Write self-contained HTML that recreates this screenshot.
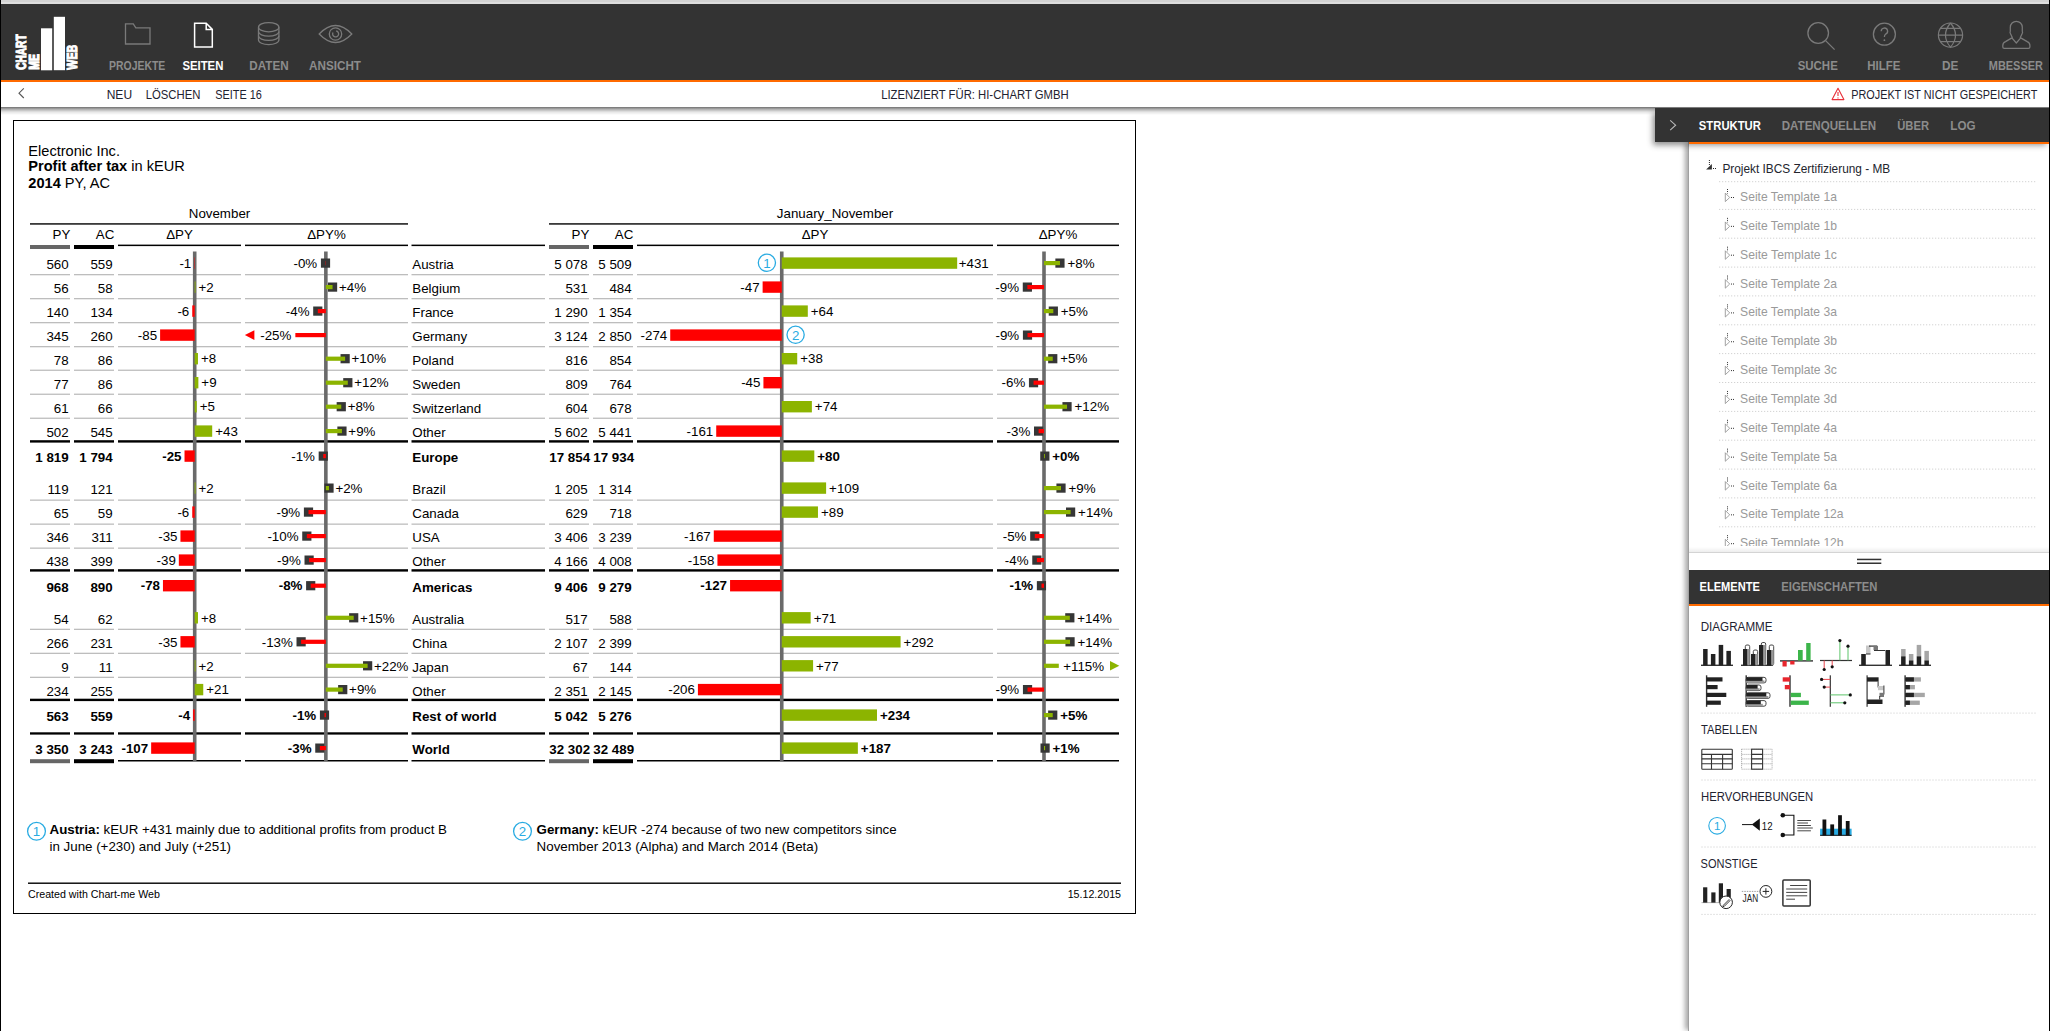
<!DOCTYPE html>
<html><head><meta charset="utf-8"><title>Chart-me Web</title>
<style>
html,body{margin:0;padding:0}
body{width:2050px;height:1031px;overflow:hidden;background:#fff;position:relative;font-family:"Liberation Sans",sans-serif}
.a{position:absolute}
svg text{font-family:"Liberation Sans",sans-serif}
</style></head><body>
<div class="a" style="left:0;top:0;width:2050px;height:2px;background:#d3d3d3"></div><div class="a" style="left:0;top:2px;width:2050px;height:2px;background:#dedede"></div><div class="a" style="left:0;top:4px;width:2050px;height:76px;background:#333333"></div><div class="a" style="left:0;top:80px;width:2050px;height:2px;background:#ff6a00"></div><div class="a" style="left:0;top:82px;width:2050px;height:25px;background:#fff"></div><div class="a" style="left:0;top:107px;width:2050px;height:8px;background:linear-gradient(rgba(0,0,0,0.56),rgba(0,0,0,0.3) 30%,rgba(0,0,0,0.1) 62%,rgba(0,0,0,0))"></div><div class="a" style="left:13px;top:120px;width:1121px;height:792px;border:1px solid #000;background:#fff"></div><div class="a" style="left:1688px;top:142px;width:361px;height:889px;background:#fff;box-shadow:-4px 0 5px -1px rgba(0,0,0,0.35);border-left:1px solid #a0a0a0"></div><div class="a" style="left:1655px;top:108px;width:395px;height:34px;background:#333;box-shadow:-3px 4px 6px -1px rgba(0,0,0,0.45)"></div><div class="a" style="left:1689px;top:142px;width:361px;height:2px;background:#ff6a00"></div><div class="a" style="left:1689px;top:547px;width:361px;height:5px;background:linear-gradient(rgba(0,0,0,0),rgba(0,0,0,0.07))"></div><div class="a" style="left:1689px;top:552px;width:361px;height:1px;background:#d4d4d4"></div><div class="a" style="left:1689px;top:570px;width:361px;height:34px;background:#333"></div><div class="a" style="left:1689px;top:604px;width:361px;height:2px;background:#ff6a00"></div><div class="a" style="left:0;top:0;width:1px;height:1031px;background:#000;z-index:5"></div><div class="a" style="left:2049px;top:0;width:1px;height:1031px;background:#000;z-index:5"></div>
<svg class="a" style="left:0;top:0;z-index:3" width="2050" height="1031" viewBox="0 0 2050 1031">
<g fill="#fff">
<rect x="41" y="28.3" width="11.2" height="42" />
<rect x="53.8" y="16.8" width="11.2" height="53.4" />
</g>
<text transform="translate(26.05,69.85) rotate(-90)" x="0" y="0" font-size="14.53" font-weight="bold" fill="#fff" stroke="#fff" stroke-width="1.1" stroke-linejoin="miter" textLength="35.50" lengthAdjust="spacingAndGlyphs">CHART</text>
<text transform="translate(38.65,69.65) rotate(-90)" x="0" y="0" font-size="14.11" font-weight="bold" fill="#fff" stroke="#fff" stroke-width="1.1" stroke-linejoin="miter" textLength="15.70" lengthAdjust="spacingAndGlyphs">ME</text>
<text transform="translate(77.35,69.65) rotate(-90)" x="0" y="0" font-size="15.08" font-weight="bold" fill="#fff" stroke="#fff" stroke-width="1.1" stroke-linejoin="miter" textLength="24.80" lengthAdjust="spacingAndGlyphs">WEB</text>
<text x="109.00" y="70.2" font-size="12.6" font-weight="bold" fill="#8c8c8c" textLength="56.30" lengthAdjust="spacingAndGlyphs">PROJEKTE</text>
<text x="182.40" y="70.2" font-size="12.6" font-weight="bold" fill="#ffffff" textLength="41.00" lengthAdjust="spacingAndGlyphs">SEITEN</text>
<text x="249.30" y="70.2" font-size="12.6" font-weight="bold" fill="#8c8c8c" textLength="39.30" lengthAdjust="spacingAndGlyphs">DATEN</text>
<text x="309.10" y="70.2" font-size="12.6" font-weight="bold" fill="#8c8c8c" textLength="51.90" lengthAdjust="spacingAndGlyphs">ANSICHT</text>
<text x="1797.70" y="70.2" font-size="12.6" font-weight="bold" fill="#8c8c8c" textLength="40.10" lengthAdjust="spacingAndGlyphs">SUCHE</text>
<text x="1867.30" y="70.2" font-size="12.6" font-weight="bold" fill="#8c8c8c" textLength="33.10" lengthAdjust="spacingAndGlyphs">HILFE</text>
<text x="1941.90" y="70.2" font-size="12.6" font-weight="bold" fill="#8c8c8c" textLength="16.40" lengthAdjust="spacingAndGlyphs">DE</text>
<text x="1988.80" y="70.2" font-size="12.6" font-weight="bold" fill="#8c8c8c" textLength="54.10" lengthAdjust="spacingAndGlyphs">MBESSER</text>
<path d="M125.5 44 V23.9 H133.3 L135.8 27.8 H150 V44 Z" fill="none" stroke="#7a7a7a" stroke-width="1.3" stroke-linejoin="miter"/>
<path d="M194.6 47 V23.3 H206.2 L212.3 29.4 V47 Z M206.2 23.3 V29.4 H212.3" fill="none" stroke="#fff" stroke-width="1.5"/>
<g fill="none" stroke="#7a7a7a" stroke-width="1.3"><ellipse cx="268.7" cy="27.2" rx="10.2" ry="4.6"/><path d="M258.5 27.2 V40 A10.2 4.6 0 0 0 278.9 40 V27.2"/><path d="M258.5 31.6 A10.2 4.6 0 0 0 278.9 31.6"/><path d="M258.5 35.8 A10.2 4.6 0 0 0 278.9 35.8"/></g>
<g fill="none" stroke="#7a7a7a" stroke-width="1.3"><path d="M319.2 34 Q335.5 17 351.8 34 Q335.5 51 319.2 34 Z"/><circle cx="335.5" cy="34" r="6.2"/><path d="M333 32.5 A3 3 0 1 0 336.2 31"/></g>
<g fill="none" stroke="#7a7a7a" stroke-width="1.3"><circle cx="1818.2" cy="33" r="10.3"/><path d="M1825.6 40.6 L1834.6 49.6"/></g>
<g fill="none" stroke="#7a7a7a" stroke-width="1.3"><circle cx="1884.4" cy="34.2" r="11"/><path d="M1881.2 31.3 A3.2 3.2 0 1 1 1885.6 34.2 Q1884.4 35 1884.4 37"/></g><circle cx="1884.4" cy="40.2" r="0.9" fill="#7a7a7a"/>
<g fill="none" stroke="#7a7a7a" stroke-width="1.2"><circle cx="1950.5" cy="35.1" r="12.1"/><path d="M1950.5 23 Q1940.4 35.1 1950.5 47.2 Q1960.6 35.1 1950.5 23 M1938.4 35.1 H1962.6 M1940.3 28.3 H1960.7 M1940.3 41.7 H1960.7"/></g>
<path d="M2012.3 37.6 L2010.4 33.5 Q2009.7 32.3 2010.3 31.2 V27.3 A6 6 0 0 1 2022.3 27.3 V31.2 Q2022.9 32.3 2022.2 33.5 L2020.3 37.6 L2027.2 41.6 Q2029.9 42.8 2029.9 45.5 V47 Q2029.9 48.4 2028.5 48.4 H2004.2 Q2002.8 48.4 2002.8 47 V45.5 Q2002.8 42.8 2005.5 41.6 Z M2012.3 38.4 L2016.3 43 L2020.3 38.4" fill="none" stroke="#7a7a7a" stroke-width="1.25" stroke-linejoin="round"/>
<path d="M23.8 88.3 L19 93.2 L23.8 98" fill="none" stroke="#555" stroke-width="1.1"/>
<text x="106.70" y="99" font-size="11.9" fill="#1e2230" textLength="25.40" lengthAdjust="spacingAndGlyphs">NEU</text>
<text x="145.70" y="99" font-size="11.9" fill="#1e2230" textLength="54.70" lengthAdjust="spacingAndGlyphs">LÖSCHEN</text>
<text x="215.30" y="99" font-size="11.9" fill="#1e2230" textLength="46.60" lengthAdjust="spacingAndGlyphs">SEITE 16</text>
<text x="881.20" y="99" font-size="11.9" fill="#1e2230" textLength="187.50" lengthAdjust="spacingAndGlyphs">LIZENZIERT FÜR: HI-CHART GMBH</text>
<text x="1851.20" y="99" font-size="11.9" fill="#1e2230" textLength="186.20" lengthAdjust="spacingAndGlyphs">PROJEKT IST NICHT GESPEICHERT</text>
<path d="M1838 88.2 L1843.9 99.6 H1832.1 Z" fill="none" stroke="#e8303a" stroke-width="1.1" stroke-linejoin="round"/>
<path d="M1838 92 V96" stroke="#e8303a" stroke-width="1.1"/><circle cx="1838" cy="97.9" r="0.6" fill="#e8303a"/>
<text x="28.3" y="155.9" font-size="14.6" fill="#000">Electronic Inc.</text>
<text x="28.3" y="171.4" font-size="14.6"><tspan font-weight="bold">Profit after tax</tspan> in kEUR</text>
<text x="28.3" y="187.7" font-size="14.6"><tspan font-weight="bold">2014</tspan> PY, AC</text>
<text x="219.5" y="218" font-size="13.33" fill="#000" text-anchor="middle">November</text>
<text x="835" y="218.3" font-size="13.33" fill="#000" text-anchor="middle">January_November</text>
<rect x="30.00" y="223.00" width="378.00" height="1.80" fill="#3a3a3a"/>
<rect x="549.00" y="223.00" width="570.00" height="1.80" fill="#3a3a3a"/>
<text x="70.3" y="239" font-size="13.33" fill="#000" text-anchor="end">PY</text>
<text x="589.3" y="239" font-size="13.33" fill="#000" text-anchor="end">PY</text>
<text x="114.3" y="239" font-size="13.33" fill="#000" text-anchor="end">AC</text>
<text x="633.3" y="239" font-size="13.33" fill="#000" text-anchor="end">AC</text>
<text x="179.5" y="239" font-size="13.33" fill="#000" text-anchor="middle">ΔPY</text>
<text x="815.0" y="239" font-size="13.33" fill="#000" text-anchor="middle">ΔPY</text>
<text x="326.5" y="239" font-size="13.33" fill="#000" text-anchor="middle">ΔPY%</text>
<text x="1058.0" y="239" font-size="13.33" fill="#000" text-anchor="middle">ΔPY%</text>
<rect x="30.00" y="245.00" width="40.00" height="4.00" fill="#666666"/>
<rect x="549.00" y="245.00" width="40.00" height="4.00" fill="#666666"/>
<rect x="74.00" y="245.00" width="40.00" height="4.00" fill="#000000"/>
<rect x="593.00" y="245.00" width="40.00" height="4.00" fill="#000000"/>
<rect x="118.00" y="244.60" width="123.00" height="1.50" fill="#000"/>
<rect x="245.00" y="244.60" width="163.00" height="1.50" fill="#000"/>
<rect x="411.50" y="244.60" width="133.50" height="1.50" fill="#000"/>
<rect x="637.00" y="244.60" width="356.00" height="1.50" fill="#000"/>
<rect x="997.00" y="244.60" width="122.00" height="1.50" fill="#000"/>
<rect x="30.00" y="274.00" width="40.00" height="1.30" fill="#bdbdbd"/>
<rect x="74.00" y="274.00" width="40.00" height="1.30" fill="#bdbdbd"/>
<rect x="118.00" y="274.00" width="123.00" height="1.30" fill="#bdbdbd"/>
<rect x="245.00" y="274.00" width="163.00" height="1.30" fill="#bdbdbd"/>
<rect x="411.50" y="274.00" width="133.50" height="1.30" fill="#bdbdbd"/>
<rect x="549.00" y="274.00" width="40.00" height="1.30" fill="#bdbdbd"/>
<rect x="593.00" y="274.00" width="40.00" height="1.30" fill="#bdbdbd"/>
<rect x="637.00" y="274.00" width="356.00" height="1.30" fill="#bdbdbd"/>
<rect x="997.00" y="274.00" width="122.00" height="1.30" fill="#bdbdbd"/>
<rect x="30.00" y="298.00" width="40.00" height="1.30" fill="#bdbdbd"/>
<rect x="74.00" y="298.00" width="40.00" height="1.30" fill="#bdbdbd"/>
<rect x="118.00" y="298.00" width="123.00" height="1.30" fill="#bdbdbd"/>
<rect x="245.00" y="298.00" width="163.00" height="1.30" fill="#bdbdbd"/>
<rect x="411.50" y="298.00" width="133.50" height="1.30" fill="#bdbdbd"/>
<rect x="549.00" y="298.00" width="40.00" height="1.30" fill="#bdbdbd"/>
<rect x="593.00" y="298.00" width="40.00" height="1.30" fill="#bdbdbd"/>
<rect x="637.00" y="298.00" width="356.00" height="1.30" fill="#bdbdbd"/>
<rect x="997.00" y="298.00" width="122.00" height="1.30" fill="#bdbdbd"/>
<rect x="30.00" y="322.00" width="40.00" height="1.30" fill="#bdbdbd"/>
<rect x="74.00" y="322.00" width="40.00" height="1.30" fill="#bdbdbd"/>
<rect x="118.00" y="322.00" width="123.00" height="1.30" fill="#bdbdbd"/>
<rect x="245.00" y="322.00" width="163.00" height="1.30" fill="#bdbdbd"/>
<rect x="411.50" y="322.00" width="133.50" height="1.30" fill="#bdbdbd"/>
<rect x="549.00" y="322.00" width="40.00" height="1.30" fill="#bdbdbd"/>
<rect x="593.00" y="322.00" width="40.00" height="1.30" fill="#bdbdbd"/>
<rect x="637.00" y="322.00" width="356.00" height="1.30" fill="#bdbdbd"/>
<rect x="997.00" y="322.00" width="122.00" height="1.30" fill="#bdbdbd"/>
<rect x="30.00" y="346.00" width="40.00" height="1.30" fill="#bdbdbd"/>
<rect x="74.00" y="346.00" width="40.00" height="1.30" fill="#bdbdbd"/>
<rect x="118.00" y="346.00" width="123.00" height="1.30" fill="#bdbdbd"/>
<rect x="245.00" y="346.00" width="163.00" height="1.30" fill="#bdbdbd"/>
<rect x="411.50" y="346.00" width="133.50" height="1.30" fill="#bdbdbd"/>
<rect x="549.00" y="346.00" width="40.00" height="1.30" fill="#bdbdbd"/>
<rect x="593.00" y="346.00" width="40.00" height="1.30" fill="#bdbdbd"/>
<rect x="637.00" y="346.00" width="356.00" height="1.30" fill="#bdbdbd"/>
<rect x="997.00" y="346.00" width="122.00" height="1.30" fill="#bdbdbd"/>
<rect x="30.00" y="369.60" width="40.00" height="1.30" fill="#bdbdbd"/>
<rect x="74.00" y="369.60" width="40.00" height="1.30" fill="#bdbdbd"/>
<rect x="118.00" y="369.60" width="123.00" height="1.30" fill="#bdbdbd"/>
<rect x="245.00" y="369.60" width="163.00" height="1.30" fill="#bdbdbd"/>
<rect x="411.50" y="369.60" width="133.50" height="1.30" fill="#bdbdbd"/>
<rect x="549.00" y="369.60" width="40.00" height="1.30" fill="#bdbdbd"/>
<rect x="593.00" y="369.60" width="40.00" height="1.30" fill="#bdbdbd"/>
<rect x="637.00" y="369.60" width="356.00" height="1.30" fill="#bdbdbd"/>
<rect x="997.00" y="369.60" width="122.00" height="1.30" fill="#bdbdbd"/>
<rect x="30.00" y="393.60" width="40.00" height="1.30" fill="#bdbdbd"/>
<rect x="74.00" y="393.60" width="40.00" height="1.30" fill="#bdbdbd"/>
<rect x="118.00" y="393.60" width="123.00" height="1.30" fill="#bdbdbd"/>
<rect x="245.00" y="393.60" width="163.00" height="1.30" fill="#bdbdbd"/>
<rect x="411.50" y="393.60" width="133.50" height="1.30" fill="#bdbdbd"/>
<rect x="549.00" y="393.60" width="40.00" height="1.30" fill="#bdbdbd"/>
<rect x="593.00" y="393.60" width="40.00" height="1.30" fill="#bdbdbd"/>
<rect x="637.00" y="393.60" width="356.00" height="1.30" fill="#bdbdbd"/>
<rect x="997.00" y="393.60" width="122.00" height="1.30" fill="#bdbdbd"/>
<rect x="30.00" y="417.60" width="40.00" height="1.30" fill="#bdbdbd"/>
<rect x="74.00" y="417.60" width="40.00" height="1.30" fill="#bdbdbd"/>
<rect x="118.00" y="417.60" width="123.00" height="1.30" fill="#bdbdbd"/>
<rect x="245.00" y="417.60" width="163.00" height="1.30" fill="#bdbdbd"/>
<rect x="411.50" y="417.60" width="133.50" height="1.30" fill="#bdbdbd"/>
<rect x="549.00" y="417.60" width="40.00" height="1.30" fill="#bdbdbd"/>
<rect x="593.00" y="417.60" width="40.00" height="1.30" fill="#bdbdbd"/>
<rect x="637.00" y="417.60" width="356.00" height="1.30" fill="#bdbdbd"/>
<rect x="997.00" y="417.60" width="122.00" height="1.30" fill="#bdbdbd"/>
<rect x="30.00" y="440.20" width="40.00" height="2.40" fill="#000"/>
<rect x="74.00" y="440.20" width="40.00" height="2.40" fill="#000"/>
<rect x="118.00" y="440.20" width="123.00" height="2.40" fill="#000"/>
<rect x="245.00" y="440.20" width="163.00" height="2.40" fill="#000"/>
<rect x="411.50" y="440.20" width="133.50" height="2.40" fill="#000"/>
<rect x="549.00" y="440.20" width="40.00" height="2.40" fill="#000"/>
<rect x="593.00" y="440.20" width="40.00" height="2.40" fill="#000"/>
<rect x="637.00" y="440.20" width="356.00" height="2.40" fill="#000"/>
<rect x="997.00" y="440.20" width="122.00" height="2.40" fill="#000"/>
<rect x="30.00" y="499.50" width="40.00" height="1.30" fill="#bdbdbd"/>
<rect x="74.00" y="499.50" width="40.00" height="1.30" fill="#bdbdbd"/>
<rect x="118.00" y="499.50" width="123.00" height="1.30" fill="#bdbdbd"/>
<rect x="245.00" y="499.50" width="163.00" height="1.30" fill="#bdbdbd"/>
<rect x="411.50" y="499.50" width="133.50" height="1.30" fill="#bdbdbd"/>
<rect x="549.00" y="499.50" width="40.00" height="1.30" fill="#bdbdbd"/>
<rect x="593.00" y="499.50" width="40.00" height="1.30" fill="#bdbdbd"/>
<rect x="637.00" y="499.50" width="356.00" height="1.30" fill="#bdbdbd"/>
<rect x="997.00" y="499.50" width="122.00" height="1.30" fill="#bdbdbd"/>
<rect x="30.00" y="523.50" width="40.00" height="1.30" fill="#bdbdbd"/>
<rect x="74.00" y="523.50" width="40.00" height="1.30" fill="#bdbdbd"/>
<rect x="118.00" y="523.50" width="123.00" height="1.30" fill="#bdbdbd"/>
<rect x="245.00" y="523.50" width="163.00" height="1.30" fill="#bdbdbd"/>
<rect x="411.50" y="523.50" width="133.50" height="1.30" fill="#bdbdbd"/>
<rect x="549.00" y="523.50" width="40.00" height="1.30" fill="#bdbdbd"/>
<rect x="593.00" y="523.50" width="40.00" height="1.30" fill="#bdbdbd"/>
<rect x="637.00" y="523.50" width="356.00" height="1.30" fill="#bdbdbd"/>
<rect x="997.00" y="523.50" width="122.00" height="1.30" fill="#bdbdbd"/>
<rect x="30.00" y="547.50" width="40.00" height="1.30" fill="#bdbdbd"/>
<rect x="74.00" y="547.50" width="40.00" height="1.30" fill="#bdbdbd"/>
<rect x="118.00" y="547.50" width="123.00" height="1.30" fill="#bdbdbd"/>
<rect x="245.00" y="547.50" width="163.00" height="1.30" fill="#bdbdbd"/>
<rect x="411.50" y="547.50" width="133.50" height="1.30" fill="#bdbdbd"/>
<rect x="549.00" y="547.50" width="40.00" height="1.30" fill="#bdbdbd"/>
<rect x="593.00" y="547.50" width="40.00" height="1.30" fill="#bdbdbd"/>
<rect x="637.00" y="547.50" width="356.00" height="1.30" fill="#bdbdbd"/>
<rect x="997.00" y="547.50" width="122.00" height="1.30" fill="#bdbdbd"/>
<rect x="30.00" y="569.20" width="40.00" height="2.40" fill="#000"/>
<rect x="74.00" y="569.20" width="40.00" height="2.40" fill="#000"/>
<rect x="118.00" y="569.20" width="123.00" height="2.40" fill="#000"/>
<rect x="245.00" y="569.20" width="163.00" height="2.40" fill="#000"/>
<rect x="411.50" y="569.20" width="133.50" height="2.40" fill="#000"/>
<rect x="549.00" y="569.20" width="40.00" height="2.40" fill="#000"/>
<rect x="593.00" y="569.20" width="40.00" height="2.40" fill="#000"/>
<rect x="637.00" y="569.20" width="356.00" height="2.40" fill="#000"/>
<rect x="997.00" y="569.20" width="122.00" height="2.40" fill="#000"/>
<rect x="30.00" y="628.70" width="40.00" height="1.30" fill="#bdbdbd"/>
<rect x="74.00" y="628.70" width="40.00" height="1.30" fill="#bdbdbd"/>
<rect x="118.00" y="628.70" width="123.00" height="1.30" fill="#bdbdbd"/>
<rect x="245.00" y="628.70" width="163.00" height="1.30" fill="#bdbdbd"/>
<rect x="411.50" y="628.70" width="133.50" height="1.30" fill="#bdbdbd"/>
<rect x="549.00" y="628.70" width="40.00" height="1.30" fill="#bdbdbd"/>
<rect x="593.00" y="628.70" width="40.00" height="1.30" fill="#bdbdbd"/>
<rect x="637.00" y="628.70" width="356.00" height="1.30" fill="#bdbdbd"/>
<rect x="997.00" y="628.70" width="122.00" height="1.30" fill="#bdbdbd"/>
<rect x="30.00" y="652.70" width="40.00" height="1.30" fill="#bdbdbd"/>
<rect x="74.00" y="652.70" width="40.00" height="1.30" fill="#bdbdbd"/>
<rect x="118.00" y="652.70" width="123.00" height="1.30" fill="#bdbdbd"/>
<rect x="245.00" y="652.70" width="163.00" height="1.30" fill="#bdbdbd"/>
<rect x="411.50" y="652.70" width="133.50" height="1.30" fill="#bdbdbd"/>
<rect x="549.00" y="652.70" width="40.00" height="1.30" fill="#bdbdbd"/>
<rect x="593.00" y="652.70" width="40.00" height="1.30" fill="#bdbdbd"/>
<rect x="637.00" y="652.70" width="356.00" height="1.30" fill="#bdbdbd"/>
<rect x="997.00" y="652.70" width="122.00" height="1.30" fill="#bdbdbd"/>
<rect x="30.00" y="676.70" width="40.00" height="1.30" fill="#bdbdbd"/>
<rect x="74.00" y="676.70" width="40.00" height="1.30" fill="#bdbdbd"/>
<rect x="118.00" y="676.70" width="123.00" height="1.30" fill="#bdbdbd"/>
<rect x="245.00" y="676.70" width="163.00" height="1.30" fill="#bdbdbd"/>
<rect x="411.50" y="676.70" width="133.50" height="1.30" fill="#bdbdbd"/>
<rect x="549.00" y="676.70" width="40.00" height="1.30" fill="#bdbdbd"/>
<rect x="593.00" y="676.70" width="40.00" height="1.30" fill="#bdbdbd"/>
<rect x="637.00" y="676.70" width="356.00" height="1.30" fill="#bdbdbd"/>
<rect x="997.00" y="676.70" width="122.00" height="1.30" fill="#bdbdbd"/>
<rect x="30.00" y="698.70" width="40.00" height="2.40" fill="#000"/>
<rect x="74.00" y="698.70" width="40.00" height="2.40" fill="#000"/>
<rect x="118.00" y="698.70" width="123.00" height="2.40" fill="#000"/>
<rect x="245.00" y="698.70" width="163.00" height="2.40" fill="#000"/>
<rect x="411.50" y="698.70" width="133.50" height="2.40" fill="#000"/>
<rect x="549.00" y="698.70" width="40.00" height="2.40" fill="#000"/>
<rect x="593.00" y="698.70" width="40.00" height="2.40" fill="#000"/>
<rect x="637.00" y="698.70" width="356.00" height="2.40" fill="#000"/>
<rect x="997.00" y="698.70" width="122.00" height="2.40" fill="#000"/>
<rect x="30.00" y="732.30" width="40.00" height="2.30" fill="#000"/>
<rect x="74.00" y="732.30" width="40.00" height="2.30" fill="#000"/>
<rect x="118.00" y="732.30" width="123.00" height="2.30" fill="#000"/>
<rect x="245.00" y="732.30" width="163.00" height="2.30" fill="#000"/>
<rect x="411.50" y="732.30" width="133.50" height="2.30" fill="#000"/>
<rect x="549.00" y="732.30" width="40.00" height="2.30" fill="#000"/>
<rect x="593.00" y="732.30" width="40.00" height="2.30" fill="#000"/>
<rect x="637.00" y="732.30" width="356.00" height="2.30" fill="#000"/>
<rect x="997.00" y="732.30" width="122.00" height="2.30" fill="#000"/>
<rect x="30.00" y="759.20" width="40.00" height="4.00" fill="#666"/>
<rect x="74.00" y="759.20" width="40.00" height="4.00" fill="#000"/>
<rect x="118.00" y="760.00" width="123.00" height="1.50" fill="#000"/>
<rect x="245.00" y="760.00" width="163.00" height="1.50" fill="#000"/>
<rect x="411.50" y="760.00" width="133.50" height="1.50" fill="#000"/>
<rect x="549.00" y="759.20" width="40.00" height="4.00" fill="#666"/>
<rect x="593.00" y="759.20" width="40.00" height="4.00" fill="#000"/>
<rect x="637.00" y="760.00" width="356.00" height="1.50" fill="#000"/>
<rect x="997.00" y="760.00" width="122.00" height="1.50" fill="#000"/>
<rect x="192.90" y="251.50" width="3.60" height="509.50" fill="#6a6a6a"/>
<rect x="324.05" y="251.50" width="3.60" height="509.50" fill="#6a6a6a"/>
<rect x="779.95" y="251.50" width="3.60" height="509.50" fill="#6a6a6a"/>
<rect x="1042.20" y="251.50" width="3.60" height="509.50" fill="#6a6a6a"/>
<text x="68.70" y="269" font-size="13.33" fill="#000" text-anchor="end">560</text>
<text x="112.70" y="269" font-size="13.33" fill="#000" text-anchor="end">559</text>
<text x="412.3" y="269" font-size="13.33" fill="#000">Austria</text>
<text x="587.70" y="269" font-size="13.33" fill="#000" text-anchor="end">5 078</text>
<text x="631.70" y="269" font-size="13.33" fill="#000" text-anchor="end">5 509</text>
<rect x="194.29" y="257.40" width="0.41" height="11.40" fill="#ff0000"/>
<text x="191.29299999999998" y="267.8" font-size="13.33" fill="#000" text-anchor="end">-1</text>
<rect x="320.91" y="258.50" width="9.20" height="9.20" fill="#363636"/>
<rect x="325.51" y="261.00" width="0.34" height="4.20" fill="#ff0000"/>
<text x="317.2142857142857" y="267.8" font-size="13.33" fill="#000" text-anchor="end">-0%</text>
<rect x="781.75" y="257.40" width="175.42" height="11.40" fill="#8cb400"/>
<text x="958.767" y="267.8" font-size="13.33" fill="#000">+431</text>
<rect x="1055.36" y="258.50" width="9.20" height="9.20" fill="#363636"/>
<rect x="1044.00" y="261.00" width="15.96" height="4.20" fill="#8cb400"/>
<text x="1067.4566758566364" y="267.8" font-size="13.33" fill="#000">+8%</text>
<text x="68.70" y="293" font-size="13.33" fill="#000" text-anchor="end">56</text>
<text x="112.70" y="293" font-size="13.33" fill="#000" text-anchor="end">58</text>
<text x="412.3" y="293" font-size="13.33" fill="#000">Belgium</text>
<text x="587.70" y="293" font-size="13.33" fill="#000" text-anchor="end">531</text>
<text x="631.70" y="293" font-size="13.33" fill="#000" text-anchor="end">484</text>
<rect x="194.70" y="281.40" width="0.81" height="11.40" fill="#8cb400"/>
<text x="198.51399999999998" y="291.8" font-size="13.33" fill="#000">+2</text>
<rect x="327.96" y="282.50" width="9.20" height="9.20" fill="#363636"/>
<rect x="325.85" y="285.00" width="6.71" height="4.20" fill="#8cb400"/>
<text x="338.9642857142857" y="291.8" font-size="13.33" fill="#000">+4%</text>
<rect x="762.62" y="281.40" width="19.13" height="11.40" fill="#ff0000"/>
<text x="759.621" y="291.8" font-size="13.33" fill="#000" text-anchor="end">-47</text>
<rect x="1022.76" y="282.50" width="9.20" height="9.20" fill="#363636"/>
<rect x="1027.36" y="285.00" width="16.64" height="4.20" fill="#ff0000"/>
<text x="1019.0596986817327" y="291.8" font-size="13.33" fill="#000" text-anchor="end">-9%</text>
<text x="68.70" y="317" font-size="13.33" fill="#000" text-anchor="end">140</text>
<text x="112.70" y="317" font-size="13.33" fill="#000" text-anchor="end">134</text>
<text x="412.3" y="317" font-size="13.33" fill="#000">France</text>
<text x="587.70" y="317" font-size="13.33" fill="#000" text-anchor="end">1 290</text>
<text x="631.70" y="317" font-size="13.33" fill="#000" text-anchor="end">1 354</text>
<rect x="192.26" y="305.40" width="2.44" height="11.40" fill="#ff0000"/>
<text x="189.25799999999998" y="315.8" font-size="13.33" fill="#000" text-anchor="end">-6</text>
<rect x="313.19" y="306.50" width="9.20" height="9.20" fill="#363636"/>
<rect x="317.79" y="309.00" width="8.06" height="4.20" fill="#ff0000"/>
<text x="309.49285714285713" y="315.8" font-size="13.33" fill="#000" text-anchor="end">-4%</text>
<rect x="781.75" y="305.40" width="26.05" height="11.40" fill="#8cb400"/>
<text x="810.798" y="315.8" font-size="13.33" fill="#000">+64</text>
<rect x="1048.73" y="306.50" width="9.20" height="9.20" fill="#363636"/>
<rect x="1044.00" y="309.00" width="9.33" height="4.20" fill="#8cb400"/>
<text x="1060.8271317829458" y="315.8" font-size="13.33" fill="#000">+5%</text>
<text x="68.70" y="341" font-size="13.33" fill="#000" text-anchor="end">345</text>
<text x="112.70" y="341" font-size="13.33" fill="#000" text-anchor="end">260</text>
<text x="412.3" y="341" font-size="13.33" fill="#000">Germany</text>
<text x="587.70" y="341" font-size="13.33" fill="#000" text-anchor="end">3 124</text>
<text x="631.70" y="341" font-size="13.33" fill="#000" text-anchor="end">2 850</text>
<rect x="160.10" y="329.40" width="34.59" height="11.40" fill="#ff0000"/>
<text x="157.105" y="339.8" font-size="13.33" fill="#000" text-anchor="end">-85</text>
<rect x="295.35" y="333.00" width="30.50" height="4.20" fill="#ff0000"/>
<text x="291.35" y="339.8" font-size="13.33" fill="#000" text-anchor="end">-25%</text>
<path d="M244.85 335.10 L254.35 330.30 L254.35 339.90 Z" fill="#ff0000"/>
<rect x="670.23" y="329.40" width="111.52" height="11.40" fill="#ff0000"/>
<text x="667.232" y="339.8" font-size="13.33" fill="#000" text-anchor="end">-274</text>
<rect x="1022.91" y="330.50" width="9.20" height="9.20" fill="#363636"/>
<rect x="1027.51" y="333.00" width="16.49" height="4.20" fill="#ff0000"/>
<text x="1019.2108834827145" y="339.8" font-size="13.33" fill="#000" text-anchor="end">-9%</text>
<text x="68.70" y="364.6" font-size="13.33" fill="#000" text-anchor="end">78</text>
<text x="112.70" y="364.6" font-size="13.33" fill="#000" text-anchor="end">86</text>
<text x="412.3" y="364.6" font-size="13.33" fill="#000">Poland</text>
<text x="587.70" y="364.6" font-size="13.33" fill="#000" text-anchor="end">816</text>
<text x="631.70" y="364.6" font-size="13.33" fill="#000" text-anchor="end">854</text>
<rect x="194.70" y="353.00" width="3.26" height="11.40" fill="#8cb400"/>
<text x="200.956" y="363.4" font-size="13.33" fill="#000">+8</text>
<rect x="340.53" y="354.10" width="9.20" height="9.20" fill="#363636"/>
<rect x="325.85" y="356.60" width="19.28" height="4.20" fill="#8cb400"/>
<text x="351.53205128205127" y="363.4" font-size="13.33" fill="#000">+10%</text>
<rect x="781.75" y="353.00" width="15.47" height="11.40" fill="#8cb400"/>
<text x="800.216" y="363.4" font-size="13.33" fill="#000">+38</text>
<rect x="1048.15" y="354.10" width="9.20" height="9.20" fill="#363636"/>
<rect x="1044.00" y="356.60" width="8.75" height="4.20" fill="#8cb400"/>
<text x="1060.2549019607843" y="363.4" font-size="13.33" fill="#000">+5%</text>
<text x="68.70" y="388.6" font-size="13.33" fill="#000" text-anchor="end">77</text>
<text x="112.70" y="388.6" font-size="13.33" fill="#000" text-anchor="end">86</text>
<text x="412.3" y="388.6" font-size="13.33" fill="#000">Sweden</text>
<text x="587.70" y="388.6" font-size="13.33" fill="#000" text-anchor="end">809</text>
<text x="631.70" y="388.6" font-size="13.33" fill="#000" text-anchor="end">764</text>
<rect x="194.70" y="377.00" width="3.66" height="11.40" fill="#8cb400"/>
<text x="201.363" y="387.4" font-size="13.33" fill="#000">+9</text>
<rect x="343.22" y="378.10" width="9.20" height="9.20" fill="#363636"/>
<rect x="325.85" y="380.60" width="21.97" height="4.20" fill="#8cb400"/>
<text x="354.22402597402595" y="387.4" font-size="13.33" fill="#000">+12%</text>
<rect x="763.43" y="377.00" width="18.31" height="11.40" fill="#ff0000"/>
<text x="760.435" y="387.4" font-size="13.33" fill="#000" text-anchor="end">-45</text>
<rect x="1028.94" y="378.10" width="9.20" height="9.20" fill="#363636"/>
<rect x="1033.54" y="380.60" width="10.46" height="4.20" fill="#ff0000"/>
<text x="1025.2426452410384" y="387.4" font-size="13.33" fill="#000" text-anchor="end">-6%</text>
<text x="68.70" y="412.6" font-size="13.33" fill="#000" text-anchor="end">61</text>
<text x="112.70" y="412.6" font-size="13.33" fill="#000" text-anchor="end">66</text>
<text x="412.3" y="412.6" font-size="13.33" fill="#000">Switzerland</text>
<text x="587.70" y="412.6" font-size="13.33" fill="#000" text-anchor="end">604</text>
<text x="631.70" y="412.6" font-size="13.33" fill="#000" text-anchor="end">678</text>
<rect x="194.70" y="401.00" width="2.03" height="11.40" fill="#8cb400"/>
<text x="199.73499999999999" y="411.4" font-size="13.33" fill="#000">+5</text>
<rect x="336.66" y="402.10" width="9.20" height="9.20" fill="#363636"/>
<rect x="325.85" y="404.60" width="15.41" height="4.20" fill="#8cb400"/>
<text x="347.65983606557376" y="411.4" font-size="13.33" fill="#000">+8%</text>
<rect x="781.75" y="401.00" width="30.12" height="11.40" fill="#8cb400"/>
<text x="814.868" y="411.4" font-size="13.33" fill="#000">+74</text>
<rect x="1062.43" y="402.10" width="9.20" height="9.20" fill="#363636"/>
<rect x="1044.00" y="404.60" width="23.03" height="4.20" fill="#8cb400"/>
<text x="1074.5331125827815" y="411.4" font-size="13.33" fill="#000">+12%</text>
<text x="68.70" y="437" font-size="13.33" fill="#000" text-anchor="end">502</text>
<text x="112.70" y="437" font-size="13.33" fill="#000" text-anchor="end">545</text>
<text x="412.3" y="437" font-size="13.33" fill="#000">Other</text>
<text x="587.70" y="437" font-size="13.33" fill="#000" text-anchor="end">5 602</text>
<text x="631.70" y="437" font-size="13.33" fill="#000" text-anchor="end">5 441</text>
<rect x="194.70" y="425.40" width="17.50" height="11.40" fill="#8cb400"/>
<text x="215.201" y="435.8" font-size="13.33" fill="#000">+43</text>
<rect x="337.35" y="426.50" width="9.20" height="9.20" fill="#363636"/>
<rect x="325.85" y="429.00" width="16.10" height="4.20" fill="#8cb400"/>
<text x="348.3535856573705" y="435.8" font-size="13.33" fill="#000">+9%</text>
<rect x="716.22" y="425.40" width="65.53" height="11.40" fill="#ff0000"/>
<text x="713.223" y="435.8" font-size="13.33" fill="#000" text-anchor="end">-161</text>
<rect x="1034.00" y="426.50" width="9.20" height="9.20" fill="#363636"/>
<rect x="1038.60" y="429.00" width="5.40" height="4.20" fill="#ff0000"/>
<text x="1030.2969296679757" y="435.8" font-size="13.33" fill="#000" text-anchor="end">-3%</text>
<text x="68.70" y="462" font-size="13.33" font-weight="bold" fill="#000" text-anchor="end">1 819</text>
<text x="112.70" y="462" font-size="13.33" font-weight="bold" fill="#000" text-anchor="end">1 794</text>
<text x="412.3" y="462" font-size="13.33" font-weight="bold" fill="#000">Europe</text>
<text x="549.30" y="462" font-size="13.33" font-weight="bold" fill="#000">17 854</text>
<text x="593.30" y="462" font-size="13.33" font-weight="bold" fill="#000">17 934</text>
<rect x="184.52" y="450.40" width="10.17" height="11.40" fill="#ff0000"/>
<text x="181.52499999999998" y="460.8" font-size="13.33" font-weight="bold" fill="#000" text-anchor="end">-25</text>
<rect x="318.67" y="451.50" width="9.20" height="9.20" fill="#363636"/>
<rect x="323.27" y="454.00" width="2.58" height="4.20" fill="#ff0000"/>
<text x="314.96616272677295" y="460.8" font-size="13.33" fill="#000" text-anchor="end">-1%</text>
<rect x="781.75" y="450.40" width="32.56" height="11.40" fill="#8cb400"/>
<text x="817.31" y="460.8" font-size="13.33" font-weight="bold" fill="#000">+80</text>
<rect x="1040.24" y="451.50" width="9.20" height="9.20" fill="#363636"/>
<rect x="1044.00" y="454.00" width="0.84" height="4.20" fill="#8cb400"/>
<text x="1052.3423882603338" y="460.8" font-size="13.33" font-weight="bold" fill="#000">+0%</text>
<text x="68.70" y="494" font-size="13.33" fill="#000" text-anchor="end">119</text>
<text x="112.70" y="494" font-size="13.33" fill="#000" text-anchor="end">121</text>
<text x="412.3" y="494" font-size="13.33" fill="#000">Brazil</text>
<text x="587.70" y="494" font-size="13.33" fill="#000" text-anchor="end">1 205</text>
<text x="631.70" y="494" font-size="13.33" fill="#000" text-anchor="end">1 314</text>
<rect x="194.70" y="482.40" width="0.81" height="11.40" fill="#8cb400"/>
<text x="198.51399999999998" y="492.8" font-size="13.33" fill="#000">+2</text>
<rect x="324.41" y="483.50" width="9.20" height="9.20" fill="#363636"/>
<rect x="325.85" y="486.00" width="3.16" height="4.20" fill="#8cb400"/>
<text x="335.40966386554624" y="492.8" font-size="13.33" fill="#000">+2%</text>
<rect x="781.75" y="482.40" width="44.36" height="11.40" fill="#8cb400"/>
<text x="829.113" y="492.8" font-size="13.33" fill="#000">+109</text>
<rect x="1056.41" y="483.50" width="9.20" height="9.20" fill="#363636"/>
<rect x="1044.00" y="486.00" width="17.01" height="4.20" fill="#8cb400"/>
<text x="1068.5058091286307" y="492.8" font-size="13.33" fill="#000">+9%</text>
<text x="68.70" y="518" font-size="13.33" fill="#000" text-anchor="end">65</text>
<text x="112.70" y="518" font-size="13.33" fill="#000" text-anchor="end">59</text>
<text x="412.3" y="518" font-size="13.33" fill="#000">Canada</text>
<text x="587.70" y="518" font-size="13.33" fill="#000" text-anchor="end">629</text>
<text x="631.70" y="518" font-size="13.33" fill="#000" text-anchor="end">718</text>
<rect x="192.26" y="506.40" width="2.44" height="11.40" fill="#ff0000"/>
<text x="189.25799999999998" y="516.8" font-size="13.33" fill="#000" text-anchor="end">-6</text>
<rect x="303.90" y="507.50" width="9.20" height="9.20" fill="#363636"/>
<rect x="308.50" y="510.00" width="17.35" height="4.20" fill="#ff0000"/>
<text x="300.19615384615383" y="516.8" font-size="13.33" fill="#000" text-anchor="end">-9%</text>
<rect x="781.75" y="506.40" width="36.22" height="11.40" fill="#8cb400"/>
<text x="820.973" y="516.8" font-size="13.33" fill="#000">+89</text>
<rect x="1066.00" y="507.50" width="9.20" height="9.20" fill="#363636"/>
<rect x="1044.00" y="510.00" width="26.60" height="4.20" fill="#8cb400"/>
<text x="1078.1009538950716" y="516.8" font-size="13.33" fill="#000">+14%</text>
<text x="68.70" y="542" font-size="13.33" fill="#000" text-anchor="end">346</text>
<text x="112.70" y="542" font-size="13.33" fill="#000" text-anchor="end">311</text>
<text x="412.3" y="542" font-size="13.33" fill="#000">USA</text>
<text x="587.70" y="542" font-size="13.33" fill="#000" text-anchor="end">3 406</text>
<text x="631.70" y="542" font-size="13.33" fill="#000" text-anchor="end">3 239</text>
<rect x="180.45" y="530.40" width="14.24" height="11.40" fill="#ff0000"/>
<text x="177.45499999999998" y="540.8" font-size="13.33" fill="#000" text-anchor="end">-35</text>
<rect x="302.23" y="531.50" width="9.20" height="9.20" fill="#363636"/>
<rect x="306.83" y="534.00" width="19.02" height="4.20" fill="#ff0000"/>
<text x="298.53265895953757" y="540.8" font-size="13.33" fill="#000" text-anchor="end">-10%</text>
<rect x="713.78" y="530.40" width="67.97" height="11.40" fill="#ff0000"/>
<text x="710.781" y="540.8" font-size="13.33" fill="#000" text-anchor="end">-167</text>
<rect x="1030.18" y="531.50" width="9.20" height="9.20" fill="#363636"/>
<rect x="1034.78" y="534.00" width="9.22" height="4.20" fill="#ff0000"/>
<text x="1026.4821491485613" y="540.8" font-size="13.33" fill="#000" text-anchor="end">-5%</text>
<text x="68.70" y="566" font-size="13.33" fill="#000" text-anchor="end">438</text>
<text x="112.70" y="566" font-size="13.33" fill="#000" text-anchor="end">399</text>
<text x="412.3" y="566" font-size="13.33" fill="#000">Other</text>
<text x="587.70" y="566" font-size="13.33" fill="#000" text-anchor="end">4 166</text>
<text x="631.70" y="566" font-size="13.33" fill="#000" text-anchor="end">4 008</text>
<rect x="178.83" y="554.40" width="15.87" height="11.40" fill="#ff0000"/>
<text x="175.827" y="564.8" font-size="13.33" fill="#000" text-anchor="end">-39</text>
<rect x="304.51" y="555.50" width="9.20" height="9.20" fill="#363636"/>
<rect x="309.11" y="558.00" width="16.74" height="4.20" fill="#ff0000"/>
<text x="300.8102739726028" y="564.8" font-size="13.33" fill="#000" text-anchor="end">-9%</text>
<rect x="717.44" y="554.40" width="64.31" height="11.40" fill="#ff0000"/>
<text x="714.444" y="564.8" font-size="13.33" fill="#000" text-anchor="end">-158</text>
<rect x="1032.27" y="555.50" width="9.20" height="9.20" fill="#363636"/>
<rect x="1036.87" y="558.00" width="7.13" height="4.20" fill="#ff0000"/>
<text x="1028.5698991838694" y="564.8" font-size="13.33" fill="#000" text-anchor="end">-4%</text>
<text x="68.70" y="591.6" font-size="13.33" font-weight="bold" fill="#000" text-anchor="end">968</text>
<text x="112.70" y="591.6" font-size="13.33" font-weight="bold" fill="#000" text-anchor="end">890</text>
<text x="412.3" y="591.6" font-size="13.33" font-weight="bold" fill="#000">Americas</text>
<text x="587.70" y="591.6" font-size="13.33" font-weight="bold" fill="#000" text-anchor="end">9 406</text>
<text x="631.70" y="591.6" font-size="13.33" font-weight="bold" fill="#000" text-anchor="end">9 279</text>
<rect x="162.95" y="580.00" width="31.75" height="11.40" fill="#ff0000"/>
<text x="159.95399999999998" y="590.4" font-size="13.33" font-weight="bold" fill="#000" text-anchor="end">-78</text>
<rect x="306.10" y="581.10" width="9.20" height="9.20" fill="#363636"/>
<rect x="310.70" y="583.60" width="15.15" height="4.20" fill="#ff0000"/>
<text x="302.4012396694215" y="590.4" font-size="13.33" font-weight="bold" fill="#000" text-anchor="end">-8%</text>
<rect x="730.06" y="580.00" width="51.69" height="11.40" fill="#ff0000"/>
<text x="727.061" y="590.4" font-size="13.33" font-weight="bold" fill="#000" text-anchor="end">-127</text>
<rect x="1036.86" y="581.10" width="9.20" height="9.20" fill="#363636"/>
<rect x="1041.46" y="583.60" width="2.54" height="4.20" fill="#ff0000"/>
<text x="1033.1616202423986" y="590.4" font-size="13.33" font-weight="bold" fill="#000" text-anchor="end">-1%</text>
<text x="68.70" y="623.7" font-size="13.33" fill="#000" text-anchor="end">54</text>
<text x="112.70" y="623.7" font-size="13.33" fill="#000" text-anchor="end">62</text>
<text x="412.3" y="623.7" font-size="13.33" fill="#000">Australia</text>
<text x="587.70" y="623.7" font-size="13.33" fill="#000" text-anchor="end">517</text>
<text x="631.70" y="623.7" font-size="13.33" fill="#000" text-anchor="end">588</text>
<rect x="194.70" y="612.10" width="3.26" height="11.40" fill="#8cb400"/>
<text x="200.956" y="622.5" font-size="13.33" fill="#000">+8</text>
<rect x="349.10" y="613.20" width="9.20" height="9.20" fill="#363636"/>
<rect x="325.85" y="615.70" width="27.85" height="4.20" fill="#8cb400"/>
<text x="360.10185185185185" y="622.5" font-size="13.33" fill="#000">+15%</text>
<rect x="781.75" y="612.10" width="28.90" height="11.40" fill="#8cb400"/>
<text x="813.647" y="622.5" font-size="13.33" fill="#000">+71</text>
<rect x="1065.22" y="613.20" width="9.20" height="9.20" fill="#363636"/>
<rect x="1044.00" y="615.70" width="25.82" height="4.20" fill="#8cb400"/>
<text x="1077.3181818181818" y="622.5" font-size="13.33" fill="#000">+14%</text>
<text x="68.70" y="647.7" font-size="13.33" fill="#000" text-anchor="end">266</text>
<text x="112.70" y="647.7" font-size="13.33" fill="#000" text-anchor="end">231</text>
<text x="412.3" y="647.7" font-size="13.33" fill="#000">China</text>
<text x="587.70" y="647.7" font-size="13.33" fill="#000" text-anchor="end">2 107</text>
<text x="631.70" y="647.7" font-size="13.33" fill="#000" text-anchor="end">2 399</text>
<rect x="180.45" y="636.10" width="14.24" height="11.40" fill="#ff0000"/>
<text x="177.45499999999998" y="646.5" font-size="13.33" fill="#000" text-anchor="end">-35</text>
<rect x="296.51" y="637.20" width="9.20" height="9.20" fill="#363636"/>
<rect x="301.11" y="639.70" width="24.74" height="4.20" fill="#ff0000"/>
<text x="292.81315789473683" y="646.5" font-size="13.33" fill="#000" text-anchor="end">-13%</text>
<rect x="781.75" y="636.10" width="118.84" height="11.40" fill="#8cb400"/>
<text x="903.594" y="646.5" font-size="13.33" fill="#000">+292</text>
<rect x="1065.45" y="637.20" width="9.20" height="9.20" fill="#363636"/>
<rect x="1044.00" y="639.70" width="26.05" height="4.20" fill="#8cb400"/>
<text x="1077.5541053630755" y="646.5" font-size="13.33" fill="#000">+14%</text>
<text x="68.70" y="671.7" font-size="13.33" fill="#000" text-anchor="end">9</text>
<text x="112.70" y="671.7" font-size="13.33" fill="#000" text-anchor="end">11</text>
<text x="412.3" y="671.7" font-size="13.33" fill="#000">Japan</text>
<text x="587.70" y="671.7" font-size="13.33" fill="#000" text-anchor="end">67</text>
<text x="631.70" y="671.7" font-size="13.33" fill="#000" text-anchor="end">144</text>
<rect x="194.70" y="660.10" width="0.81" height="11.40" fill="#8cb400"/>
<text x="198.51399999999998" y="670.5" font-size="13.33" fill="#000">+2</text>
<rect x="363.03" y="661.20" width="9.20" height="9.20" fill="#363636"/>
<rect x="325.85" y="663.70" width="41.78" height="4.20" fill="#8cb400"/>
<text x="374.02777777777777" y="670.5" font-size="13.33" fill="#000">+22%</text>
<rect x="781.75" y="660.10" width="31.34" height="11.40" fill="#8cb400"/>
<text x="816.0889999999999" y="670.5" font-size="13.33" fill="#000">+77</text>
<rect x="1044.00" y="663.70" width="14.80" height="4.20" fill="#8cb400"/>
<text x="1063.2" y="670.5" font-size="13.33" fill="#000">+115%</text>
<path d="M1119.30 665.80 L1110.00 661.00 L1110.00 670.60 Z" fill="#8cb400"/>
<text x="68.70" y="695.5" font-size="13.33" fill="#000" text-anchor="end">234</text>
<text x="112.70" y="695.5" font-size="13.33" fill="#000" text-anchor="end">255</text>
<text x="412.3" y="695.5" font-size="13.33" fill="#000">Other</text>
<text x="587.70" y="695.5" font-size="13.33" fill="#000" text-anchor="end">2 351</text>
<text x="631.70" y="695.5" font-size="13.33" fill="#000" text-anchor="end">2 145</text>
<rect x="194.70" y="683.90" width="8.55" height="11.40" fill="#8cb400"/>
<text x="206.24699999999999" y="694.3" font-size="13.33" fill="#000">+21</text>
<rect x="338.12" y="685.00" width="9.20" height="9.20" fill="#363636"/>
<rect x="325.85" y="687.50" width="16.87" height="4.20" fill="#8cb400"/>
<text x="349.12179487179486" y="694.3" font-size="13.33" fill="#000">+9%</text>
<rect x="697.91" y="683.90" width="83.84" height="11.40" fill="#ff0000"/>
<text x="694.908" y="694.3" font-size="13.33" fill="#000" text-anchor="end">-206</text>
<rect x="1022.93" y="685.00" width="9.20" height="9.20" fill="#363636"/>
<rect x="1027.53" y="687.50" width="16.47" height="4.20" fill="#ff0000"/>
<text x="1019.227009783071" y="694.3" font-size="13.33" fill="#000" text-anchor="end">-9%</text>
<text x="68.70" y="721" font-size="13.33" font-weight="bold" fill="#000" text-anchor="end">563</text>
<text x="112.70" y="721" font-size="13.33" font-weight="bold" fill="#000" text-anchor="end">559</text>
<text x="412.3" y="721" font-size="13.33" font-weight="bold" fill="#000">Rest of world</text>
<text x="587.70" y="721" font-size="13.33" font-weight="bold" fill="#000" text-anchor="end">5 042</text>
<text x="631.70" y="721" font-size="13.33" font-weight="bold" fill="#000" text-anchor="end">5 276</text>
<rect x="193.07" y="709.40" width="1.63" height="11.40" fill="#ff0000"/>
<text x="190.072" y="719.8" font-size="13.33" font-weight="bold" fill="#000" text-anchor="end">-4</text>
<rect x="319.91" y="710.50" width="9.20" height="9.20" fill="#363636"/>
<rect x="324.51" y="713.00" width="1.34" height="4.20" fill="#ff0000"/>
<text x="316.214298401421" y="719.8" font-size="13.33" font-weight="bold" fill="#000" text-anchor="end">-1%</text>
<rect x="781.75" y="709.40" width="95.24" height="11.40" fill="#8cb400"/>
<text x="879.988" y="719.8" font-size="13.33" font-weight="bold" fill="#000">+234</text>
<rect x="1048.13" y="710.50" width="9.20" height="9.20" fill="#363636"/>
<rect x="1044.00" y="713.00" width="8.73" height="4.20" fill="#8cb400"/>
<text x="1060.225109083697" y="719.8" font-size="13.33" font-weight="bold" fill="#000">+5%</text>
<text x="68.70" y="754" font-size="13.33" font-weight="bold" fill="#000" text-anchor="end">3 350</text>
<text x="112.70" y="754" font-size="13.33" font-weight="bold" fill="#000" text-anchor="end">3 243</text>
<text x="412.3" y="754" font-size="13.33" font-weight="bold" fill="#000">World</text>
<text x="549.30" y="754" font-size="13.33" font-weight="bold" fill="#000">32 302</text>
<text x="593.30" y="754" font-size="13.33" font-weight="bold" fill="#000">32 489</text>
<rect x="151.15" y="742.40" width="43.55" height="11.40" fill="#ff0000"/>
<text x="148.15099999999998" y="752.8" font-size="13.33" font-weight="bold" fill="#000" text-anchor="end">-107</text>
<rect x="315.25" y="743.50" width="9.20" height="9.20" fill="#363636"/>
<rect x="319.85" y="746.00" width="6.00" height="4.20" fill="#ff0000"/>
<text x="311.545223880597" y="752.8" font-size="13.33" font-weight="bold" fill="#000" text-anchor="end">-3%</text>
<rect x="781.75" y="742.40" width="76.11" height="11.40" fill="#8cb400"/>
<text x="860.859" y="752.8" font-size="13.33" font-weight="bold" fill="#000">+187</text>
<rect x="1040.49" y="743.50" width="9.20" height="9.20" fill="#363636"/>
<rect x="1044.00" y="746.00" width="1.09" height="4.20" fill="#8cb400"/>
<text x="1052.5883536623119" y="752.8" font-size="13.33" font-weight="bold" fill="#000">+1%</text>
<circle cx="766.9" cy="262.8" r="8.6" fill="#fff" stroke="#29abe2" stroke-width="1.3"/>
<text x="766.9" y="267.6" font-size="13.3" fill="#29abe2" text-anchor="middle">1</text>
<circle cx="795.6" cy="334.8" r="8.6" fill="#fff" stroke="#29abe2" stroke-width="1.3"/>
<text x="795.6" y="339.6" font-size="13.3" fill="#29abe2" text-anchor="middle">2</text>
<circle cx="36.5" cy="831.3" r="8.9" fill="#fff" stroke="#29abe2" stroke-width="1.3"/>
<text x="36.5" y="836.0999999999999" font-size="13.3" fill="#29abe2" text-anchor="middle">1</text>
<text x="49.5" y="833.8" font-size="13.33"><tspan font-weight="bold">Austria:</tspan> kEUR +431 mainly due to additional profits from product B</text>
<text x="49.5" y="850.8" font-size="13.33" fill="#000">in June (+230) and July (+251)</text>
<circle cx="522.5" cy="831.3" r="8.9" fill="#fff" stroke="#29abe2" stroke-width="1.3"/>
<text x="522.5" y="836.0999999999999" font-size="13.3" fill="#29abe2" text-anchor="middle">2</text>
<text x="536.6" y="833.8" font-size="13.33"><tspan font-weight="bold">Germany:</tspan> kEUR -274 because of two new competitors since</text>
<text x="536.6" y="850.8" font-size="13.33" fill="#000">November 2013 (Alpha) and March 2014 (Beta)</text>
<rect x="28.00" y="882.50" width="1093.00" height="1.40" fill="#000"/>
<text x="28" y="897.8" font-size="10.67" fill="#000">Created with Chart-me Web</text>
<text x="1121" y="897.8" font-size="10.67" fill="#000" text-anchor="end">15.12.2015</text>
<path d="M1670.2 120.3 L1675.6 125.2 L1670.2 130.1" fill="none" stroke="#bbb" stroke-width="1.1"/>
<text x="1698.80" y="130.3" font-size="12.6" font-weight="bold" fill="#ffffff" textLength="62.10" lengthAdjust="spacingAndGlyphs">STRUKTUR</text>
<text x="1781.70" y="130.3" font-size="12.6" font-weight="bold" fill="#8c8c8c" textLength="94.40" lengthAdjust="spacingAndGlyphs">DATENQUELLEN</text>
<text x="1897.20" y="130.3" font-size="12.6" font-weight="bold" fill="#8c8c8c" textLength="31.80" lengthAdjust="spacingAndGlyphs">ÜBER</text>
<text x="1950.30" y="130.3" font-size="12.6" font-weight="bold" fill="#8c8c8c" textLength="25.20" lengthAdjust="spacingAndGlyphs">LOG</text>
<text x="1699.50" y="590.9" font-size="12.6" font-weight="bold" fill="#ffffff" textLength="60.40" lengthAdjust="spacingAndGlyphs">ELEMENTE</text>
<text x="1781.30" y="590.9" font-size="12.6" font-weight="bold" fill="#8c8c8c" textLength="96.20" lengthAdjust="spacingAndGlyphs">EIGENSCHAFTEN</text>
<path d="M1706.1 169.6 L1711.9 164 V169.6 Z" fill="#333"/>
<line x1="1709.4" y1="160" x2="1709.4" y2="166" stroke="#222" stroke-width="1" stroke-dasharray="1 1"/>
<line x1="1713" y1="168.5" x2="1717" y2="168.5" stroke="#222" stroke-width="1" stroke-dasharray="1 1"/>
<text x="1722.40" y="172.75" font-size="12.6" fill="#23252e" textLength="167.80" lengthAdjust="spacingAndGlyphs">Projekt IBCS Zertifizierung - MB</text>
<line x1="1719.2" y1="181.7" x2="2037" y2="181.7" stroke="#c8c8c8" stroke-width="1" stroke-dasharray="1 2"/>
<svg x="1689" y="182" width="360" height="364" overflow="hidden"><g transform="translate(-1689,-182)">
<path d="M1725.3 193.10 L1729.7 197.50 L1725.3 201.60 Z" fill="none" stroke="#999" stroke-width="0.9"/>
<line x1="1727.5" y1="189.00" x2="1727.5" y2="193.50" stroke="#333" stroke-width="1" stroke-dasharray="1 1"/>
<line x1="1731" y1="197.50" x2="1735" y2="197.50" stroke="#333" stroke-width="1" stroke-dasharray="1 1"/>
<text x="1740.1" y="201.00" font-size="12.6" fill="#9a9a9a" textLength="96.8" lengthAdjust="spacingAndGlyphs">Seite Template 1a</text>
<line x1="1719.2" y1="209.4" x2="2037" y2="209.4" stroke="#c8c8c8" stroke-width="1" stroke-dasharray="1 2"/>
<path d="M1725.3 221.95 L1729.7 226.35 L1725.3 230.45 Z" fill="none" stroke="#999" stroke-width="0.9"/>
<line x1="1727.5" y1="217.85" x2="1727.5" y2="222.35" stroke="#333" stroke-width="1" stroke-dasharray="1 1"/>
<line x1="1731" y1="226.35" x2="1735" y2="226.35" stroke="#333" stroke-width="1" stroke-dasharray="1 1"/>
<text x="1740.1" y="229.85" font-size="12.6" fill="#9a9a9a" textLength="96.8" lengthAdjust="spacingAndGlyphs">Seite Template 1b</text>
<line x1="1719.2" y1="238.2" x2="2037" y2="238.2" stroke="#c8c8c8" stroke-width="1" stroke-dasharray="1 2"/>
<path d="M1725.3 250.80 L1729.7 255.20 L1725.3 259.30 Z" fill="none" stroke="#999" stroke-width="0.9"/>
<line x1="1727.5" y1="246.70" x2="1727.5" y2="251.20" stroke="#333" stroke-width="1" stroke-dasharray="1 1"/>
<line x1="1731" y1="255.20" x2="1735" y2="255.20" stroke="#333" stroke-width="1" stroke-dasharray="1 1"/>
<text x="1740.1" y="258.70" font-size="12.6" fill="#9a9a9a" textLength="96.8" lengthAdjust="spacingAndGlyphs">Seite Template 1c</text>
<line x1="1719.2" y1="267.1" x2="2037" y2="267.1" stroke="#c8c8c8" stroke-width="1" stroke-dasharray="1 2"/>
<path d="M1725.3 279.65 L1729.7 284.05 L1725.3 288.15 Z" fill="none" stroke="#999" stroke-width="0.9"/>
<line x1="1727.5" y1="275.55" x2="1727.5" y2="280.05" stroke="#333" stroke-width="1" stroke-dasharray="1 1"/>
<line x1="1731" y1="284.05" x2="1735" y2="284.05" stroke="#333" stroke-width="1" stroke-dasharray="1 1"/>
<text x="1740.1" y="287.55" font-size="12.6" fill="#9a9a9a" textLength="96.8" lengthAdjust="spacingAndGlyphs">Seite Template 2a</text>
<line x1="1719.2" y1="295.9" x2="2037" y2="295.9" stroke="#c8c8c8" stroke-width="1" stroke-dasharray="1 2"/>
<path d="M1725.3 308.50 L1729.7 312.90 L1725.3 317.00 Z" fill="none" stroke="#999" stroke-width="0.9"/>
<line x1="1727.5" y1="304.40" x2="1727.5" y2="308.90" stroke="#333" stroke-width="1" stroke-dasharray="1 1"/>
<line x1="1731" y1="312.90" x2="1735" y2="312.90" stroke="#333" stroke-width="1" stroke-dasharray="1 1"/>
<text x="1740.1" y="316.40" font-size="12.6" fill="#9a9a9a" textLength="96.8" lengthAdjust="spacingAndGlyphs">Seite Template 3a</text>
<line x1="1719.2" y1="324.8" x2="2037" y2="324.8" stroke="#c8c8c8" stroke-width="1" stroke-dasharray="1 2"/>
<path d="M1725.3 337.35 L1729.7 341.75 L1725.3 345.85 Z" fill="none" stroke="#999" stroke-width="0.9"/>
<line x1="1727.5" y1="333.25" x2="1727.5" y2="337.75" stroke="#333" stroke-width="1" stroke-dasharray="1 1"/>
<line x1="1731" y1="341.75" x2="1735" y2="341.75" stroke="#333" stroke-width="1" stroke-dasharray="1 1"/>
<text x="1740.1" y="345.25" font-size="12.6" fill="#9a9a9a" textLength="96.8" lengthAdjust="spacingAndGlyphs">Seite Template 3b</text>
<line x1="1719.2" y1="353.6" x2="2037" y2="353.6" stroke="#c8c8c8" stroke-width="1" stroke-dasharray="1 2"/>
<path d="M1725.3 366.20 L1729.7 370.60 L1725.3 374.70 Z" fill="none" stroke="#999" stroke-width="0.9"/>
<line x1="1727.5" y1="362.10" x2="1727.5" y2="366.60" stroke="#333" stroke-width="1" stroke-dasharray="1 1"/>
<line x1="1731" y1="370.60" x2="1735" y2="370.60" stroke="#333" stroke-width="1" stroke-dasharray="1 1"/>
<text x="1740.1" y="374.10" font-size="12.6" fill="#9a9a9a" textLength="96.8" lengthAdjust="spacingAndGlyphs">Seite Template 3c</text>
<line x1="1719.2" y1="382.5" x2="2037" y2="382.5" stroke="#c8c8c8" stroke-width="1" stroke-dasharray="1 2"/>
<path d="M1725.3 395.05 L1729.7 399.45 L1725.3 403.55 Z" fill="none" stroke="#999" stroke-width="0.9"/>
<line x1="1727.5" y1="390.95" x2="1727.5" y2="395.45" stroke="#333" stroke-width="1" stroke-dasharray="1 1"/>
<line x1="1731" y1="399.45" x2="1735" y2="399.45" stroke="#333" stroke-width="1" stroke-dasharray="1 1"/>
<text x="1740.1" y="402.95" font-size="12.6" fill="#9a9a9a" textLength="96.8" lengthAdjust="spacingAndGlyphs">Seite Template 3d</text>
<line x1="1719.2" y1="411.4" x2="2037" y2="411.4" stroke="#c8c8c8" stroke-width="1" stroke-dasharray="1 2"/>
<path d="M1725.3 423.90 L1729.7 428.30 L1725.3 432.40 Z" fill="none" stroke="#999" stroke-width="0.9"/>
<line x1="1727.5" y1="419.80" x2="1727.5" y2="424.30" stroke="#333" stroke-width="1" stroke-dasharray="1 1"/>
<line x1="1731" y1="428.30" x2="1735" y2="428.30" stroke="#333" stroke-width="1" stroke-dasharray="1 1"/>
<text x="1740.1" y="431.80" font-size="12.6" fill="#9a9a9a" textLength="96.8" lengthAdjust="spacingAndGlyphs">Seite Template 4a</text>
<line x1="1719.2" y1="440.2" x2="2037" y2="440.2" stroke="#c8c8c8" stroke-width="1" stroke-dasharray="1 2"/>
<path d="M1725.3 452.75 L1729.7 457.15 L1725.3 461.25 Z" fill="none" stroke="#999" stroke-width="0.9"/>
<line x1="1727.5" y1="448.65" x2="1727.5" y2="453.15" stroke="#333" stroke-width="1" stroke-dasharray="1 1"/>
<line x1="1731" y1="457.15" x2="1735" y2="457.15" stroke="#333" stroke-width="1" stroke-dasharray="1 1"/>
<text x="1740.1" y="460.65" font-size="12.6" fill="#9a9a9a" textLength="96.8" lengthAdjust="spacingAndGlyphs">Seite Template 5a</text>
<line x1="1719.2" y1="469.1" x2="2037" y2="469.1" stroke="#c8c8c8" stroke-width="1" stroke-dasharray="1 2"/>
<path d="M1725.3 481.60 L1729.7 486.00 L1725.3 490.10 Z" fill="none" stroke="#999" stroke-width="0.9"/>
<line x1="1727.5" y1="477.50" x2="1727.5" y2="482.00" stroke="#333" stroke-width="1" stroke-dasharray="1 1"/>
<line x1="1731" y1="486.00" x2="1735" y2="486.00" stroke="#333" stroke-width="1" stroke-dasharray="1 1"/>
<text x="1740.1" y="489.50" font-size="12.6" fill="#9a9a9a" textLength="96.8" lengthAdjust="spacingAndGlyphs">Seite Template 6a</text>
<line x1="1719.2" y1="497.9" x2="2037" y2="497.9" stroke="#c8c8c8" stroke-width="1" stroke-dasharray="1 2"/>
<path d="M1725.3 510.45 L1729.7 514.85 L1725.3 518.95 Z" fill="none" stroke="#999" stroke-width="0.9"/>
<line x1="1727.5" y1="506.35" x2="1727.5" y2="510.85" stroke="#333" stroke-width="1" stroke-dasharray="1 1"/>
<line x1="1731" y1="514.85" x2="1735" y2="514.85" stroke="#333" stroke-width="1" stroke-dasharray="1 1"/>
<text x="1740.1" y="518.35" font-size="12.6" fill="#9a9a9a" textLength="103.5" lengthAdjust="spacingAndGlyphs">Seite Template 12a</text>
<line x1="1719.2" y1="526.8" x2="2037" y2="526.8" stroke="#c8c8c8" stroke-width="1" stroke-dasharray="1 2"/>
<path d="M1725.3 539.30 L1729.7 543.70 L1725.3 547.80 Z" fill="none" stroke="#999" stroke-width="0.9"/>
<line x1="1727.5" y1="535.20" x2="1727.5" y2="539.70" stroke="#333" stroke-width="1" stroke-dasharray="1 1"/>
<line x1="1731" y1="543.70" x2="1735" y2="543.70" stroke="#333" stroke-width="1" stroke-dasharray="1 1"/>
<text x="1740.1" y="547.20" font-size="12.6" fill="#9a9a9a" textLength="103.5" lengthAdjust="spacingAndGlyphs">Seite Template 12b</text>
</g></svg>
<rect x="1857.00" y="558.70" width="24.30" height="1.50" fill="#333"/>
<rect x="1857.00" y="562.50" width="24.30" height="1.50" fill="#333"/>
<text x="1700.70" y="631.4" font-size="12.3" fill="#1e2230" textLength="71.90" lengthAdjust="spacingAndGlyphs">DIAGRAMME</text>
<text x="1700.90" y="734.0" font-size="12.3" fill="#1e2230" textLength="56.50" lengthAdjust="spacingAndGlyphs">TABELLEN</text>
<text x="1701.00" y="800.9" font-size="12.3" fill="#1e2230" textLength="112.20" lengthAdjust="spacingAndGlyphs">HERVORHEBUNGEN</text>
<text x="1700.60" y="868.0" font-size="12.3" fill="#1e2230" textLength="56.90" lengthAdjust="spacingAndGlyphs">SONSTIGE</text>
<line x1="1701.5" y1="713.1" x2="2037" y2="713.1" stroke="#c8c8c8" stroke-width="1" stroke-dasharray="1 2"/>
<line x1="1701.5" y1="780" x2="2037" y2="780" stroke="#c8c8c8" stroke-width="1" stroke-dasharray="1 2"/>
<line x1="1701.5" y1="847" x2="2037" y2="847" stroke="#c8c8c8" stroke-width="1" stroke-dasharray="1 2"/>
<line x1="1701.5" y1="914.4" x2="2037" y2="914.4" stroke="#c8c8c8" stroke-width="1" stroke-dasharray="1 2"/>
<rect x="1701.00" y="664.60" width="32.00" height="1.40" fill="#333"/>
<rect x="1703.10" y="649.00" width="4.50" height="16.30" fill="#222"/>
<rect x="1710.90" y="654.00" width="4.50" height="11.30" fill="#222"/>
<rect x="1718.70" y="644.90" width="4.50" height="20.40" fill="#222"/>
<rect x="1726.40" y="650.90" width="4.50" height="14.40" fill="#222"/>
<rect x="1741.00" y="664.60" width="32.00" height="1.40" fill="#333"/>
<rect x="1745.3" y="645" width="4.4" height="20" rx="1.6" fill="#fff" stroke="#333" stroke-width="0.9"/>
<rect x="1747.30" y="649.00" width="2.20" height="16.30" fill="#999"/>
<rect x="1743.00" y="649.00" width="4.30" height="16.30" fill="#222"/>
<rect x="1753.3" y="650" width="4.4" height="15" rx="1.6" fill="#fff" stroke="#333" stroke-width="0.9"/>
<rect x="1755.30" y="654.00" width="2.20" height="11.30" fill="#999"/>
<rect x="1751.00" y="654.00" width="4.30" height="11.30" fill="#222"/>
<rect x="1761.3" y="642.5" width="4.4" height="22.5" rx="1.6" fill="#fff" stroke="#333" stroke-width="0.9"/>
<rect x="1763.30" y="645.00" width="2.20" height="20.30" fill="#999"/>
<rect x="1759.00" y="645.00" width="4.30" height="20.30" fill="#222"/>
<rect x="1769.3" y="645" width="4.4" height="20" rx="1.6" fill="#fff" stroke="#333" stroke-width="0.9"/>
<rect x="1771.30" y="650.00" width="2.20" height="15.30" fill="#999"/>
<rect x="1767.00" y="650.00" width="4.30" height="15.30" fill="#222"/>
<rect x="1780.00" y="660.20" width="33.00" height="1.40" fill="#333"/>
<rect x="1782.50" y="661.00" width="4.20" height="5.50" fill="#e8262d"/>
<rect x="1790.20" y="661.00" width="4.30" height="3.50" fill="#e8262d"/>
<rect x="1798.00" y="650.00" width="4.70" height="10.60" fill="#3cb54a"/>
<rect x="1806.20" y="643.00" width="4.40" height="17.60" fill="#3cb54a"/>
<rect x="1820.00" y="659.90" width="32.00" height="1.20" fill="#333"/>
<line x1="1824.2" y1="660.4" x2="1824.2" y2="669.5" stroke="#e8464d" stroke-width="1"/>
<circle cx="1824.2" cy="669.5" r="1.6" fill="#111"/>
<line x1="1832.2" y1="660.4" x2="1832.2" y2="666.8" stroke="#e8464d" stroke-width="1"/>
<circle cx="1832.2" cy="666.8" r="1.6" fill="#111"/>
<line x1="1839.9" y1="660.4" x2="1839.9" y2="640.6" stroke="#5cc46a" stroke-width="1"/>
<circle cx="1839.9" cy="640.6" r="1.6" fill="#111"/>
<line x1="1848" y1="660.4" x2="1848" y2="646.2" stroke="#5cc46a" stroke-width="1"/>
<circle cx="1848" cy="646.2" r="1.6" fill="#111"/>
<rect x="1859.00" y="664.60" width="33.00" height="1.40" fill="#333"/>
<rect x="1861.20" y="654.00" width="4.60" height="11.00" fill="#222"/>
<rect x="1866.00" y="645.50" width="4.50" height="8.50" fill="#c8c8c8"/>
<rect x="1866.00" y="653.50" width="4.50" height="1.00" fill="#333"/>
<rect x="1869.00" y="645.50" width="8.00" height="1.20" fill="#333"/>
<rect x="1873.50" y="645.80" width="4.50" height="4.30" fill="#777"/>
<rect x="1874.00" y="650.00" width="11.00" height="1.00" fill="#333"/>
<rect x="1885.50" y="650.00" width="4.50" height="15.00" fill="#222"/>
<rect x="1899.00" y="664.60" width="32.00" height="1.40" fill="#333"/>
<rect x="1901.10" y="649.00" width="4.50" height="7.30" fill="#a6a6a6"/>
<rect x="1901.10" y="656.30" width="4.50" height="9.00" fill="#222"/>
<rect x="1908.90" y="654.00" width="4.50" height="6.40" fill="#a6a6a6"/>
<rect x="1908.90" y="660.40" width="4.50" height="4.90" fill="#222"/>
<rect x="1916.70" y="644.90" width="4.50" height="11.40" fill="#a6a6a6"/>
<rect x="1916.70" y="656.30" width="4.50" height="9.00" fill="#222"/>
<rect x="1924.40" y="650.90" width="4.50" height="9.50" fill="#a6a6a6"/>
<rect x="1924.40" y="660.40" width="4.50" height="4.90" fill="#222"/>
<rect x="1705.90" y="675.30" width="1.40" height="31.50" fill="#333"/>
<rect x="1706.60" y="677.30" width="15.90" height="4.20" fill="#222"/>
<rect x="1706.60" y="685.00" width="11.00" height="4.20" fill="#222"/>
<rect x="1706.60" y="692.80" width="19.70" height="4.20" fill="#222"/>
<rect x="1706.60" y="700.60" width="14.20" height="4.20" fill="#222"/>
<rect x="1745.50" y="675.30" width="1.40" height="31.50" fill="#333"/>
<rect x="1746.2" y="677.3" width="19.8" height="5.6" rx="2" fill="#fff" stroke="#333" stroke-width="0.9"/>
<rect x="1746.20" y="680.50" width="18.30" height="2.20" fill="#999"/>
<rect x="1746.20" y="677.30" width="16.30" height="3.60" fill="#222"/>
<rect x="1746.2" y="685" width="14.8" height="5.6" rx="2" fill="#fff" stroke="#333" stroke-width="0.9"/>
<rect x="1746.20" y="688.20" width="13.40" height="2.20" fill="#999"/>
<rect x="1746.20" y="685.00" width="11.40" height="3.60" fill="#222"/>
<rect x="1746.2" y="692.8" width="23.8" height="5.6" rx="2" fill="#fff" stroke="#333" stroke-width="0.9"/>
<rect x="1746.20" y="696.00" width="22.10" height="2.20" fill="#999"/>
<rect x="1746.20" y="692.80" width="20.10" height="3.60" fill="#222"/>
<rect x="1746.2" y="700.6" width="19.8" height="5.6" rx="2" fill="#fff" stroke="#333" stroke-width="0.9"/>
<rect x="1746.20" y="703.80" width="16.60" height="2.20" fill="#999"/>
<rect x="1746.20" y="700.60" width="14.60" height="3.60" fill="#222"/>
<rect x="1789.30" y="675.30" width="1.40" height="31.50" fill="#333"/>
<rect x="1782.70" y="677.30" width="7.30" height="4.30" fill="#e8262d"/>
<rect x="1784.80" y="685.00" width="5.20" height="4.30" fill="#e8262d"/>
<rect x="1790.70" y="692.80" width="10.20" height="4.30" fill="#3cb54a"/>
<rect x="1790.70" y="700.60" width="18.10" height="4.30" fill="#3cb54a"/>
<rect x="1829.70" y="675.30" width="1.20" height="31.50" fill="#333"/>
<line x1="1830.3" y1="679.4" x2="1821.6" y2="679.4" stroke="#e8464d" stroke-width="1"/>
<circle cx="1821.6" cy="679.4" r="1.6" fill="#111"/>
<line x1="1830.3" y1="687.1" x2="1824.2" y2="687.1" stroke="#e8464d" stroke-width="1"/>
<circle cx="1824.2" cy="687.1" r="1.6" fill="#111"/>
<line x1="1830.3" y1="694.9" x2="1850.3" y2="694.9" stroke="#5cc46a" stroke-width="1"/>
<circle cx="1850.3" cy="694.9" r="1.6" fill="#111"/>
<line x1="1830.3" y1="702.8" x2="1844.8" y2="702.8" stroke="#5cc46a" stroke-width="1"/>
<circle cx="1844.8" cy="702.8" r="1.6" fill="#111"/>
<rect x="1866.40" y="675.30" width="1.40" height="31.50" fill="#555"/>
<rect x="1867.00" y="677.30" width="11.60" height="4.30" fill="#222"/>
<rect x="1877.60" y="681.50" width="1.00" height="6.00" fill="#333"/>
<rect x="1878.00" y="686.00" width="5.50" height="4.20" fill="#c8c8c8"/>
<rect x="1883.40" y="685.50" width="1.00" height="9.00" fill="#333"/>
<rect x="1879.50" y="692.80" width="4.50" height="4.20" fill="#777"/>
<rect x="1879.20" y="696.00" width="1.00" height="3.50" fill="#333"/>
<rect x="1867.00" y="699.50" width="15.50" height="4.50" fill="#222"/>
<rect x="1904.40" y="675.30" width="1.40" height="31.50" fill="#333"/>
<rect x="1905.10" y="677.30" width="15.80" height="4.30" fill="#a6a6a6"/>
<rect x="1905.10" y="677.30" width="8.80" height="4.30" fill="#222"/>
<rect x="1905.10" y="685.00" width="9.80" height="4.30" fill="#a6a6a6"/>
<rect x="1905.10" y="685.00" width="4.80" height="4.30" fill="#222"/>
<rect x="1905.10" y="692.80" width="19.70" height="4.30" fill="#a6a6a6"/>
<rect x="1905.10" y="692.80" width="8.80" height="4.30" fill="#222"/>
<rect x="1905.10" y="700.60" width="14.70" height="4.30" fill="#a6a6a6"/>
<rect x="1905.10" y="700.60" width="4.80" height="4.30" fill="#222"/>
<g fill="none" stroke="#333" stroke-width="1.1"><rect x="1701.8" y="749.2" width="30.5" height="20" rx="0.8"/><path d="M1701.8 754.4 H1732.3 M1701.8 758.9 H1732.3 M1701.8 763.8 H1732.3 M1711.5 754.4 V769.2 M1722.6 754.4 V769.2"/></g>
<g fill="none" stroke="#999" stroke-width="0.9" stroke-dasharray="1 1"><rect x="1741.6" y="749.2" width="30.5" height="20"/><path d="M1741.6 754.4 H1772.1 M1741.6 758.9 H1772.1 M1741.6 763.8 H1772.1"/></g>
<g fill="none" stroke="#333" stroke-width="1.1"><rect x="1751.6" y="749.2" width="11" height="20"/><path d="M1751.6 754.4 H1762.6 M1751.6 758.9 H1762.6 M1751.6 763.8 H1762.6"/></g>
<circle cx="1717.1" cy="825.8" r="8.3" fill="none" stroke="#29abe2" stroke-width="1.1"/>
<text x="1717.1" y="830.2" font-size="11.5" fill="#29abe2" text-anchor="middle">1</text>
<path d="M1742 824.6 H1752.5" stroke="#111" stroke-width="1"/><path d="M1751.8 824.6 L1759.8 818.6 V830.7 Z" fill="#111"/>
<text x="1761.8" y="829.7" font-size="11" fill="#111" textLength="10.8" lengthAdjust="spacingAndGlyphs">12</text>
<path d="M1782.8 815.2 H1793.9 V835 H1782.8" fill="none" stroke="#111" stroke-width="1.1"/><circle cx="1782.8" cy="815.2" r="2.3" fill="#111"/><circle cx="1782.8" cy="835" r="2.3" fill="#111"/>
<line x1="1797.3" y1="820.5" x2="1810.9" y2="820.5" stroke="#333" stroke-width="0.9"/>
<line x1="1797.3" y1="823" x2="1808" y2="823" stroke="#333" stroke-width="0.9"/>
<line x1="1797.3" y1="825.5" x2="1810.9" y2="825.5" stroke="#333" stroke-width="0.9"/>
<line x1="1797.3" y1="828" x2="1812.8" y2="828" stroke="#333" stroke-width="0.9"/>
<line x1="1797.3" y1="830.8" x2="1810.9" y2="830.8" stroke="#333" stroke-width="0.9"/>
<rect x="1820.10" y="828.70" width="31.50" height="6.80" fill="#29abe2"/>
<rect x="1822.50" y="819.50" width="3.80" height="16.00" fill="#111"/>
<rect x="1830.30" y="824.40" width="3.80" height="11.10" fill="#111"/>
<rect x="1838.10" y="815.20" width="3.80" height="20.30" fill="#111"/>
<rect x="1845.80" y="821.00" width="3.80" height="14.50" fill="#111"/>
<rect x="1820.10" y="834.80" width="31.50" height="1.00" fill="#111"/>
<rect x="1701.50" y="902.20" width="24.00" height="0.90" fill="#aaa"/>
<rect x="1703.10" y="887.30" width="4.20" height="15.30" fill="#222"/>
<rect x="1711.30" y="892.40" width="4.20" height="10.20" fill="#222"/>
<rect x="1718.80" y="883.30" width="4.20" height="19.30" fill="#222"/>
<rect x="1726.60" y="889.00" width="4.20" height="13.60" fill="#222"/>
<circle cx="1726.1" cy="902.3" r="6.3" fill="#fff" stroke="#222" stroke-width="1"/><path d="M1723.3 905.3 L1729 899.6 L1730 900.6 L1724.3 906.3 L1722.9 906.7 Z" fill="none" stroke="#222" stroke-width="0.9"/>
<line x1="1741.8" y1="891.4" x2="1759" y2="891.4" stroke="#888" stroke-width="0.8" stroke-dasharray="1.5 1"/>
<text x="1742.5" y="902.3" font-size="10" fill="#222" textLength="15.6" lengthAdjust="spacingAndGlyphs">JAN</text>
<circle cx="1765.9" cy="891.4" r="5.9" fill="#fff" stroke="#222" stroke-width="1"/><path d="M1765.9 888.2 V894.6 M1762.7 891.4 H1769.1" stroke="#222" stroke-width="1"/>
<rect x="1782.9" y="879.9" width="27.3" height="26.1" rx="1" fill="none" stroke="#333" stroke-width="1.5"/>
<line x1="1790.1" y1="885.5" x2="1807.2" y2="885.5" stroke="#444" stroke-width="1"/>
<line x1="1786.2" y1="889" x2="1807.2" y2="889" stroke="#444" stroke-width="1"/>
<line x1="1786.2" y1="892.4" x2="1807.2" y2="892.4" stroke="#444" stroke-width="1"/>
<line x1="1786.2" y1="895.8" x2="1807.2" y2="895.8" stroke="#444" stroke-width="1"/>
<line x1="1786.2" y1="899.2" x2="1795" y2="899.2" stroke="#444" stroke-width="1"/>
</svg>
</body></html>
